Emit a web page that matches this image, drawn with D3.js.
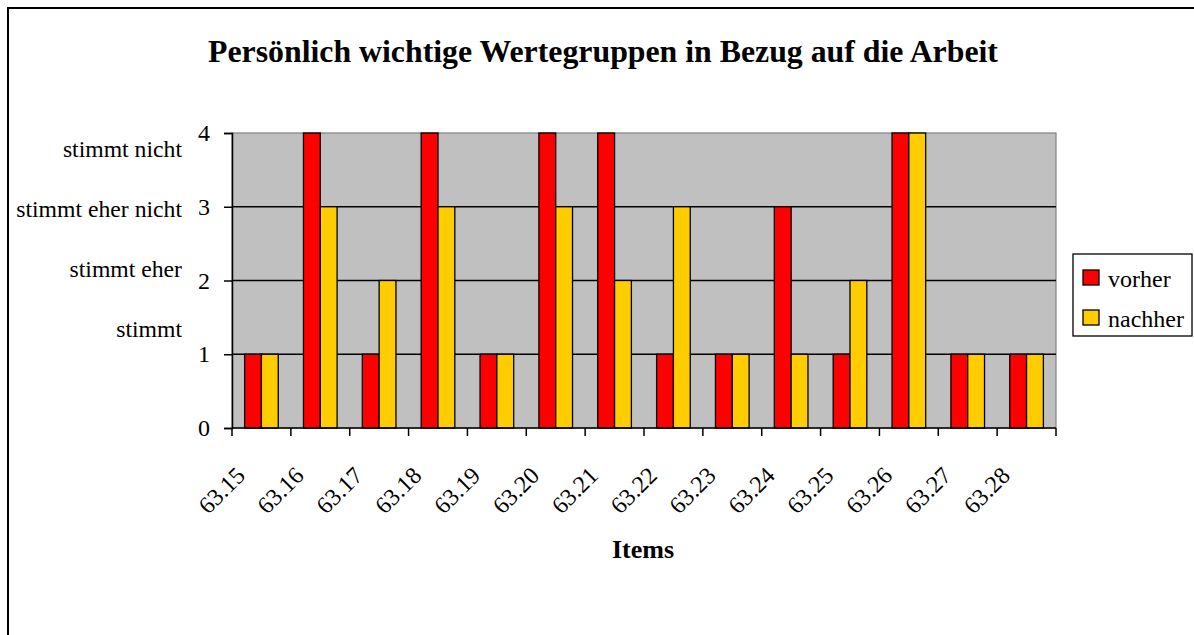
<!DOCTYPE html>
<html>
<head>
<meta charset="utf-8">
<script src="https://cdn.jsdelivr.net/npm/d3@7"></script>
<style>
  body { margin: 0; background: #fff; }
  svg { display: block; font-family: "Liberation Serif", "Times New Roman", serif; }
</style>
</head>
<body>
<div id="root"></div>
<script>
// chart data
const items = ["63.15", "63.16", "63.17", "63.18", "63.19", "63.20", "63.21",
  "63.22", "63.23", "63.24", "63.25", "63.26", "63.27", "63.28"];
const vorher = [1, 4, 1, 4, 1, 4, 4, 1, 1, 3, 1, 4, 1, 1];
const nachher = [1, 3, 2, 3, 1, 3, 2, 3, 1, 1, 2, 4, 1, 1];
const seriesNames = ["vorher", "nachher"];
const yTicks = [0, 1, 2, 3, 4];
const answerLabels = ["stimmt", "stimmt eher", "stimmt eher nicht", "stimmt nicht"];

const width = 1194;
const height = 635;
const colors = { vorher: "#ff0000", nachher: "#ffcc00" };

const plot = { left: 232, right: 1056, top: 133, bottom: 428 };

const svg = d3
  .select("#root")
  .append("svg")
  .attr("width", width)
  .attr("height", height);

// outer chart frame (runs off the page at right and bottom)
svg
  .append("rect")
  .attr("x", 8)
  .attr("y", 8)
  .attr("width", 1200)
  .attr("height", 700)
  .attr("fill", "#fff")
  .attr("stroke", "#000")
  .attr("stroke-width", 2);

const x0 = d3
  .scaleBand()
  .domain(items)
  .range([plot.left, plot.right])
  .paddingInner(0)
  .paddingOuter(0);

// 150% gap width: two bars + 1.5 bar widths of gap per category
const x1 = d3
  .scaleBand()
  .domain(seriesNames)
  .range([0, x0.bandwidth()])
  .paddingInner(0)
  .paddingOuter(0.75);

const y = d3.scaleLinear().domain([0, 4]).range([plot.bottom, plot.top]);

// plot background
svg
  .append("rect")
  .attr("x", plot.left)
  .attr("y", plot.top)
  .attr("width", plot.right - plot.left)
  .attr("height", plot.bottom - plot.top)
  .attr("fill", "#c0c0c0")
  .attr("stroke", "#808080")
  .attr("stroke-width", 1.2);

// gridlines
svg
  .append("g")
  .selectAll("line")
  .data(yTicks.filter((d) => d > 0 && d < 4))
  .join("line")
  .attr("x1", plot.left)
  .attr("x2", plot.right)
  .attr("y1", (d) => y(d))
  .attr("y2", (d) => y(d))
  .attr("stroke", "#000")
  .attr("stroke-width", 1.3);

// bars
const rows = items.map((it, i) => ({ item: it, vorher: vorher[i], nachher: nachher[i] }));

svg
  .append("g")
  .selectAll("g")
  .data(rows)
  .join("g")
  .attr("transform", (d) => `translate(${x0(d.item)},0)`)
  .selectAll("rect")
  .data((d) => seriesNames.map((s) => ({ key: s, value: d[s] })))
  .join("rect")
  .attr("x", (d) => x1(d.key))
  .attr("width", x1.bandwidth())
  .attr("y", (d) => y(d.value))
  .attr("height", (d) => y(0) - y(d.value))
  .attr("fill", (d) => colors[d.key])
  .attr("stroke", "#000")
  .attr("stroke-width", 1.3);

// y axis
const yAxis = svg
  .append("g")
  .attr("transform", `translate(${plot.left},0)`)
  .call(d3.axisLeft(y).tickValues(yTicks).tickFormat(d3.format("d")).tickSize(8).tickPadding(14));
yAxis.select(".domain").attr("stroke", "#000").attr("stroke-width", 1.5);
yAxis.selectAll(".tick line").attr("stroke", "#000").attr("stroke-width", 1.5);
yAxis
  .selectAll(".tick text")
  .attr("font-family", "Liberation Serif, serif")
  .attr("font-size", 24)
  .attr("fill", "#000");

// x axis with ticks between categories
const xAxis = svg
  .append("g")
  .attr("transform", `translate(0,${plot.bottom})`);
xAxis
  .append("line")
  .attr("x1", plot.left)
  .attr("x2", plot.right)
  .attr("stroke", "#000")
  .attr("stroke-width", 1.5);
xAxis
  .selectAll("line.tick")
  .data(items.concat([null]))
  .join("line")
  .attr("class", "tick")
  .attr("x1", (d) => (d ? x0(d) : plot.right))
  .attr("x2", (d) => (d ? x0(d) : plot.right))
  .attr("y1", 0)
  .attr("y2", 8)
  .attr("stroke", "#000")
  .attr("stroke-width", 1.5);
xAxis
  .selectAll("text")
  .data(items)
  .join("text")
  .attr("transform", (d) => {
    const cx = x0(d) + x0.bandwidth() / 2 - 15;
    return `translate(${cx},49) rotate(-45)`;
  })
  .attr("text-anchor", "end")
  .attr("font-size", 24)
  .attr("fill", "#000")
  .text((d) => d);

// answer labels beside the value axis
svg
  .append("g")
  .selectAll("text")
  .data(answerLabels)
  .join("text")
  .attr("x", 182)
  .attr("y", (d, i) => 157 + (3 - i) * 60)
  .attr("text-anchor", "end")
  .attr("font-size", 23.7)
  .attr("fill", "#000")
  .text((d) => d);

// title
svg
  .append("text")
  .attr("x", 603)
  .attr("y", 62)
  .attr("text-anchor", "middle")
  .attr("font-size", 31.8)
  .attr("font-weight", "bold")
  .text("Persönlich wichtige Wertegruppen in Bezug auf die Arbeit");

// x axis title
svg
  .append("text")
  .attr("x", 643)
  .attr("y", 558)
  .attr("text-anchor", "middle")
  .attr("font-size", 26)
  .attr("font-weight", "bold")
  .text("Items");

// legend
const legend = svg.append("g").attr("transform", "translate(1073,254)");
legend
  .append("rect")
  .attr("width", 119)
  .attr("height", 82)
  .attr("fill", "#fff")
  .attr("stroke", "#000")
  .attr("stroke-width", 1.3);
const legendItems = legend
  .selectAll("g")
  .data(seriesNames)
  .join("g")
  .attr("transform", (d, i) => `translate(10,${16 + i * 40})`);
legendItems
  .append("rect")
  .attr("width", 16)
  .attr("height", 15)
  .attr("fill", (d) => colors[d])
  .attr("stroke", "#000")
  .attr("stroke-width", 1.3);
legendItems
  .append("text")
  .attr("x", 25)
  .attr("y", 17)
  .attr("font-size", 24)
  .attr("fill", "#000")
  .text((d) => d);
</script>
</body>
</html>
